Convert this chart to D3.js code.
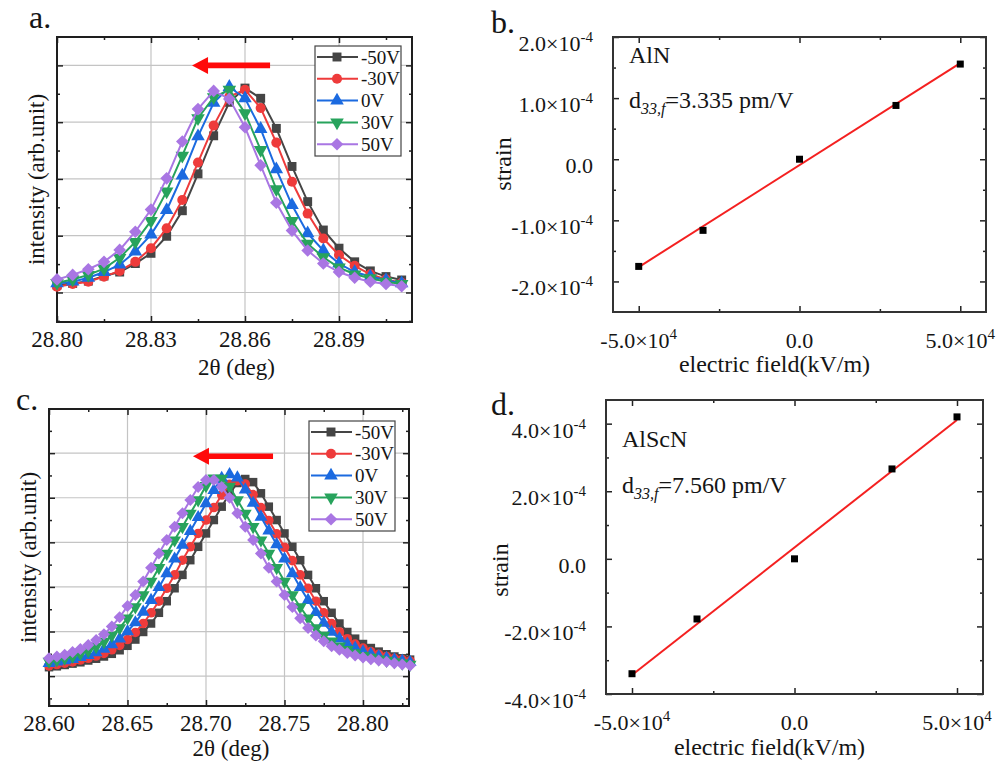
<!DOCTYPE html>
<html>
<head>
<meta charset="utf-8">
<script src="https://cdn.jsdelivr.net/npm/d3@7"></script>
<style>
  body { margin: 0; background: #fff; }
  svg, svg text { font-family: 'Liberation Serif', 'DejaVu Serif', 'Times New Roman', serif; }
</style>
</head>
<body>
<svg id="fig" width="1006" height="764" font-family="Liberation Serif, DejaVu Serif, serif"></svg>
<script>
// ---- data ----
const voltages = ['-50V', '-30V', '0V', '30V', '50V'];
const voltColors = ['#454545', '#ee3b3b', '#1b6ae0', '#27a35c', '#a976e3'];

// panel a: AlN rocking curves
const thetaA = [28.800, 28.805, 28.810, 28.815, 28.820, 28.825, 28.830, 28.835, 28.840, 28.845,
  28.850, 28.855, 28.860, 28.865, 28.870, 28.875, 28.880, 28.885, 28.890, 28.895,
  28.900, 28.905, 28.910];
const m50A = [0.13, 0.16, 0.20, 0.29, 0.36, 0.51, 0.69, 0.99, 1.44, 2.09, 2.76, 3.35, 3.60, 3.42, 2.89, 2.22, 1.60, 1.10, 0.78, 0.54, 0.38, 0.28, 0.22];
const m30A = [0.10, 0.15, 0.19, 0.28, 0.38, 0.54, 0.78, 1.13, 1.63, 2.29, 2.94, 3.45, 3.57, 3.25, 2.64, 1.95, 1.39, 0.95, 0.66, 0.47, 0.32, 0.23, 0.17];
const v0A = [0.16, 0.19, 0.26, 0.36, 0.49, 0.72, 1.02, 1.45, 2.06, 2.75, 3.34, 3.62, 3.42, 2.88, 2.17, 1.54, 1.04, 0.74, 0.51, 0.36, 0.28, 0.22, 0.16];
const p30A = [0.17, 0.23, 0.31, 0.42, 0.61, 0.89, 1.26, 1.78, 2.41, 3.07, 3.44, 3.57, 3.16, 2.51, 1.82, 1.26, 0.86, 0.62, 0.44, 0.32, 0.25, 0.19, 0.15];
const p50A = [0.23, 0.31, 0.41, 0.54, 0.75, 1.07, 1.46, 2.01, 2.66, 3.23, 3.55, 3.41, 2.91, 2.24, 1.58, 1.09, 0.74, 0.51, 0.36, 0.26, 0.19, 0.15, 0.11];

// panel c: AlScN rocking curves
const thetaC = [28.600, 28.605, 28.610, 28.615, 28.620, 28.625, 28.630, 28.635, 28.640, 28.645,
  28.650, 28.655, 28.660, 28.665, 28.670, 28.675, 28.680, 28.685, 28.690, 28.695,
  28.700, 28.705, 28.710, 28.715, 28.720, 28.725, 28.730, 28.735, 28.740, 28.745,
  28.750, 28.755, 28.760, 28.765, 28.770, 28.775, 28.780, 28.785, 28.790, 28.795,
  28.800, 28.805, 28.810, 28.815, 28.820, 28.825, 28.830];
const m50C = [0.20, 0.22, 0.25, 0.28, 0.31, 0.35, 0.39, 0.44, 0.50, 0.58, 0.68, 0.82, 0.99, 1.18, 1.42, 1.68, 1.97, 2.27, 2.60, 2.90, 3.20, 3.50, 3.80, 4.10, 4.33, 4.42, 4.35, 4.10, 3.80, 3.50, 3.20, 2.90, 2.60, 2.27, 1.97, 1.68, 1.42, 1.18, 0.99, 0.84, 0.72, 0.63, 0.55, 0.49, 0.44, 0.40, 0.37];
const m30C = [0.23, 0.26, 0.29, 0.32, 0.36, 0.40, 0.45, 0.51, 0.59, 0.69, 0.82, 0.98, 1.18, 1.42, 1.68, 1.97, 2.27, 2.60, 2.90, 3.20, 3.50, 3.78, 4.06, 4.30, 4.38, 4.31, 4.07, 3.78, 3.49, 3.19, 2.89, 2.59, 2.27, 1.97, 1.68, 1.42, 1.18, 0.99, 0.84, 0.72, 0.63, 0.55, 0.49, 0.44, 0.40, 0.37, 0.34];
const v0C = [0.29, 0.32, 0.35, 0.38, 0.42, 0.47, 0.53, 0.61, 0.71, 0.84, 1.00, 1.20, 1.44, 1.70, 1.99, 2.30, 2.63, 2.94, 3.25, 3.56, 3.87, 4.17, 4.44, 4.52, 4.45, 4.18, 3.88, 3.57, 3.26, 2.95, 2.63, 2.30, 1.99, 1.70, 1.43, 1.19, 0.99, 0.84, 0.72, 0.63, 0.55, 0.49, 0.44, 0.40, 0.37, 0.34, 0.31];
const p30C = [0.33, 0.36, 0.40, 0.44, 0.50, 0.57, 0.66, 0.77, 0.91, 1.08, 1.30, 1.55, 1.82, 2.12, 2.43, 2.75, 3.05, 3.35, 3.65, 3.95, 4.27, 4.44, 4.43, 4.25, 3.95, 3.65, 3.35, 3.05, 2.75, 2.43, 2.12, 1.82, 1.55, 1.30, 1.08, 0.91, 0.78, 0.67, 0.59, 0.52, 0.46, 0.42, 0.38, 0.35, 0.32, 0.29, 0.26];
const p50C = [0.40, 0.44, 0.48, 0.54, 0.61, 0.70, 0.81, 0.94, 1.11, 1.32, 1.57, 1.82, 2.12, 2.43, 2.75, 3.05, 3.35, 3.65, 3.95, 4.24, 4.40, 4.40, 4.24, 4.00, 3.65, 3.35, 3.05, 2.75, 2.43, 2.12, 1.82, 1.55, 1.30, 1.08, 0.91, 0.78, 0.67, 0.59, 0.52, 0.46, 0.42, 0.38, 0.35, 0.32, 0.29, 0.26, 0.24];

// panels b, d: strain vs field
const fieldKV = [-5e4, -3e4, 0, 3e4, 5e4];
const strainAlN = [-1.754e-4, -1.164e-4, 0, 0.88e-4, 1.557e-4];
const strainAlScN = [-3.40e-4, -1.78e-4, 0, 2.66e-4, 4.20e-4];

const svg = d3.select('#fig');
const ink = '#151515';
const serif = 'Liberation Serif, DejaVu Serif, serif';

function symbolPath(i, size) {
  // square, circle, triangle up, triangle down, diamond
  const types = [d3.symbolSquare, d3.symbolCircle, d3.symbolTriangle, d3.symbolTriangle, d3.symbolSquare];
  return d3.symbol().type(types[i]).size(size)();
}
function symbolRotate(i) {
  return i === 3 ? 180 : (i === 4 ? 45 : 0);
}

// inward ticks on all four sides
function frameTicks(g, x, y, xMajor, xMinor, yMajor, yMinor, big, small) {
  const sides = [
    [d3.axisBottom, x, y.range()[0], 'y', xMajor, xMinor],
    [d3.axisTop, x, y.range()[1], 'y', xMajor, xMinor],
    [d3.axisLeft, y, x.range()[0], 'x', yMajor, yMinor],
    [d3.axisRight, y, x.range()[1], 'x', yMajor, yMinor]
  ];
  sides.forEach(([ax, sc, pos, dir, maj, min]) => {
    const tr = dir === 'y' ? `translate(0,${pos})` : `translate(${pos},0)`;
    [[maj, big], [min, small]].forEach(([vals, len]) => {
      g.append('g')
        .attr('transform', tr)
        .call(ax(sc).tickValues(vals).tickSize(-len).tickFormat(''))
        .call(s => s.select('.domain').remove())
        .call(s => s.selectAll('line').attr('stroke', '#222').attr('stroke-width', 1.5));
    });
  });
}

function label(g, xp, yp, size, str) {
  return g.append('text')
    .attr('x', xp).attr('y', yp)
    .attr('font-family', serif)
    .attr('font-size', size).attr('fill', ink)
    .text(str);
}

function drawPeakPanel(p) {
  const g = svg.append('g').attr('font-family', serif);
  const x = d3.scaleLinear().domain(p.xDomain).range([p.x0, p.x1]);
  const y = d3.scaleLinear().domain(p.yDomain).range([p.y1, p.y0]);

  // grid
  g.append('g').selectAll('line').data(p.xMajor.slice(1)).join('line')
    .attr('x1', d => x(d)).attr('x2', d => x(d))
    .attr('y1', p.y0).attr('y2', p.y1)
    .attr('stroke', '#c4c4c4').attr('stroke-width', 1.2);
  g.append('g').selectAll('line').data(p.yMajor).join('line')
    .attr('x1', p.x0).attr('x2', p.x1)
    .attr('y1', d => y(d)).attr('y2', d => y(d))
    .attr('stroke', '#c4c4c4').attr('stroke-width', 1.2);

  frameTicks(g, x, y, p.xMajor, p.xMinor, p.yMajor, p.yMinor, 6, 3);

  g.append('rect')
    .attr('x', p.x0).attr('y', p.y0)
    .attr('width', p.x1 - p.x0).attr('height', p.y1 - p.y0)
    .attr('fill', 'none').attr('stroke', '#1e1e1e').attr('stroke-width', 2);

  // series
  const line = d3.line().x((d, i) => x(p.theta[i])).y(d => y(d));
  p.series.forEach((vals, si) => {
    const sg = g.append('g');
    sg.append('path')
      .attr('d', line(vals))
      .attr('fill', 'none')
      .attr('stroke', voltColors[si])
      .attr('stroke-width', 2);
    sg.selectAll('path.pt').data(vals).join('path')
      .attr('class', 'pt')
      .attr('d', symbolPath(si, p.markerSize))
      .attr('transform', (d, i) => `translate(${x(p.theta[i])},${y(d)}) rotate(${symbolRotate(si)})`)
      .attr('fill', voltColors[si]);
  });

  // arrow
  const ax0 = x(p.arrow[0]), ax1 = x(p.arrow[1]), ay = y(p.arrow[2]);
  g.append('path')
    .attr('d', `M${ax0},${ay} L${ax0 + 16},${ay - 8.5} L${ax0 + 16},${ay - 2.8} L${ax1},${ay - 2.8} L${ax1},${ay + 2.8} L${ax0 + 16},${ay + 2.8} L${ax0 + 16},${ay + 8.5} Z`)
    .attr('fill', '#ff0a0a');

  // legend
  const lg = g.append('g').attr('transform', `translate(${p.legend[0]},${p.legend[1]})`);
  lg.append('rect')
    .attr('width', 86).attr('height', 110)
    .attr('fill', '#fff').attr('stroke', '#444').attr('stroke-width', 1.2);
  voltages.forEach((name, i) => {
    const ry = 11 + i * 21.8;
    lg.append('line')
      .attr('x1', 2).attr('x2', 43).attr('y1', ry).attr('y2', ry)
      .attr('stroke', voltColors[i]).attr('stroke-width', 2);
    lg.append('path')
      .attr('d', symbolPath(i, 80))
      .attr('transform', `translate(22,${ry}) rotate(${symbolRotate(i)})`)
      .attr('fill', voltColors[i]);
    label(lg, 46, ry + 6.5, 19, name);
  });

  // tick labels
  g.append('g').selectAll('text').data(p.xMajor).join('text')
    .attr('x', d => x(d)).attr('y', p.y1 + 25)
    .attr('text-anchor', 'middle')
    .attr('font-family', serif)
    .attr('font-size', 23).attr('fill', ink)
    .text(d3.format('.2f'));

  // axis titles
  label(g, (p.x0 + p.x1) / 2 + 2, p.xTitleY, 23, '2θ (deg)')
    .attr('text-anchor', 'middle');
  label(g, 0, 0, 23, 'intensity (arb.unit)')
    .attr('transform', `translate(${p.yTitleX},${(p.y0 + p.y1) / 2}) rotate(-90)`)
    .attr('text-anchor', 'middle');

  label(g, p.label[0], p.label[1], 32, p.label[2]);
}

function sciLabel(sel, v) {
  if (v === 0) { sel.text('0.0'); return; }
  const e = Math.floor(Math.log10(Math.abs(v)) + 1e-9);
  const m = v / Math.pow(10, e);
  sel.append('tspan').text(m.toFixed(1) + '×10');
  sel.append('tspan').attr('dy', -9).attr('font-size', 15).text(String(e));
}

function drawStrainPanel(p) {
  const g = svg.append('g').attr('font-family', serif);
  const x = d3.scaleLinear().domain(p.xDomain).range([p.x0, p.x1]);
  const y = d3.scaleLinear().domain(p.yDomain).range([p.y1, p.y0]);

  frameTicks(g, x, y, p.xMajor, p.xMinor, p.yMajor, p.yMinor, 6, 3);

  g.append('rect')
    .attr('x', p.x0).attr('y', p.y0)
    .attr('width', p.x1 - p.x0).attr('height', p.y1 - p.y0)
    .attr('fill', 'none').attr('stroke', '#333').attr('stroke-width', 2);

  // least squares fit
  const mx = d3.mean(fieldKV), my = d3.mean(p.strain);
  const slope = d3.sum(fieldKV, (d, i) => (d - mx) * (p.strain[i] - my)) /
    d3.sum(fieldKV, d => (d - mx) * (d - mx));
  const icpt = my - slope * mx;
  const ext = d3.extent(fieldKV);
  g.append('line')
    .attr('x1', x(ext[0])).attr('y1', y(slope * ext[0] + icpt))
    .attr('x2', x(ext[1])).attr('y2', y(slope * ext[1] + icpt))
    .attr('stroke', '#f42020').attr('stroke-width', 2);

  g.selectAll('rect.pt').data(p.strain).join('rect')
    .attr('class', 'pt')
    .attr('x', (d, i) => x(fieldKV[i]) - 3.5).attr('y', d => y(d) - 3.5)
    .attr('width', 7).attr('height', 7)
    .attr('fill', '#000');

  // tick labels
  g.append('g').selectAll('text').data(p.xMajor).join('text')
    .attr('x', d => x(d)).attr('y', p.y1 + 36)
    .attr('text-anchor', 'middle')
    .attr('font-family', serif)
    .attr('font-size', 22).attr('fill', ink)
    .each(function (d) { sciLabel(d3.select(this), d); });
  g.append('g').selectAll('text').data(p.yMajor).join('text')
    .attr('x', p.x0 - 20).attr('y', d => y(d) + 14)
    .attr('text-anchor', 'end')
    .attr('font-family', serif)
    .attr('font-size', 22).attr('fill', ink)
    .each(function (d) { sciLabel(d3.select(this), d); });

  // titles
  label(g, (p.x0 + p.x1) / 2 - 25, p.xTitleY, 24, 'electric field(kV/m)')
    .attr('text-anchor', 'middle');
  label(g, 0, 0, 24, 'strain')
    .attr('transform', `translate(${p.yTitleX},${p.yTitleMid}) rotate(-90)`)
    .attr('text-anchor', 'middle');

  // annotations
  label(g, p.x0 + 16, p.nameY, 24, p.material);
  const dt = label(g, p.x0 + 16, p.d33Y, 24, null);
  dt.append('tspan').text('d');
  dt.append('tspan').attr('dy', 6).attr('font-size', 16).attr('font-style', 'italic').text('33,f');
  dt.append('tspan').attr('dy', -6).text(p.d33);

  label(g, p.label[0], p.label[1], 32, p.label[2]);
}

drawPeakPanel({
  x0: 57, x1: 412, y0: 37, y1: 322,
  xDomain: [28.80, 28.9133], yDomain: [-0.52, 4.5],
  xMajor: [28.80, 28.83, 28.86, 28.89], xMinor: [28.815, 28.845, 28.875, 28.905],
  yMajor: [0, 1, 2, 3, 4], yMinor: [-0.5, 0.5, 1.5, 2.5, 3.5],
  theta: thetaA, series: [m50A, m30A, v0A, p30A, p50A],
  markerSize: 80,
  arrow: [28.8431, 28.868, 4.0],
  legend: [315, 46],
  xTitleY: 375, yTitleX: 44,
  label: [29, 28, 'a.']
});

drawPeakPanel({
  x0: 49, x1: 409, y0: 409, y1: 706,
  xDomain: [28.60, 28.8293], yDomain: [-0.67, 5.99],
  xMajor: [28.60, 28.65, 28.70, 28.75, 28.80], xMinor: [28.625, 28.675, 28.725, 28.775, 28.825],
  yMajor: [0, 1, 2, 3, 4, 5], yMinor: [-0.5, 0.5, 1.5, 2.5, 3.5, 4.5, 5.5],
  theta: thetaC, series: [m50C, m30C, v0C, p30C, p50C],
  markerSize: 72,
  arrow: [28.6917, 28.7427, 4.93],
  legend: [309, 421],
  xTitleY: 756, yTitleX: 36,
  label: [16, 410, 'c.']
});

drawStrainPanel({
  x0: 613, x1: 986, y0: 37, y1: 312,
  xDomain: [-5.8e4, 5.8e4], yDomain: [-2.5e-4, 2.0e-4],
  xMajor: [-5e4, 0, 5e4], xMinor: [-2.5e4, 2.5e4],
  yMajor: [-2e-4, -1e-4, 0, 1e-4, 2e-4], yMinor: [-1.5e-4, -0.5e-4, 0.5e-4, 1.5e-4],
  strain: strainAlN,
  material: 'AlN', d33: '=3.335 pm/V', nameY: 63, d33Y: 108,
  xTitleY: 372, yTitleX: 511, yTitleMid: 164,
  label: [491, 33, 'b.']
});

drawStrainPanel({
  x0: 606, x1: 983, y0: 400, y1: 694,
  xDomain: [-5.8e4, 5.8e4], yDomain: [-4.0e-4, 4.7e-4],
  xMajor: [-5e4, 0, 5e4], xMinor: [-2.5e4, 2.5e4],
  yMajor: [-4e-4, -2e-4, 0, 2e-4, 4e-4], yMinor: [-3e-4, -1e-4, 1e-4, 3e-4],
  strain: strainAlScN,
  material: 'AlScN', d33: '=7.560 pm/V', nameY: 447, d33Y: 493,
  xTitleY: 755, yTitleX: 508, yTitleMid: 570,
  label: [491, 415, 'd.']
});
</script>
</body>
</html>
